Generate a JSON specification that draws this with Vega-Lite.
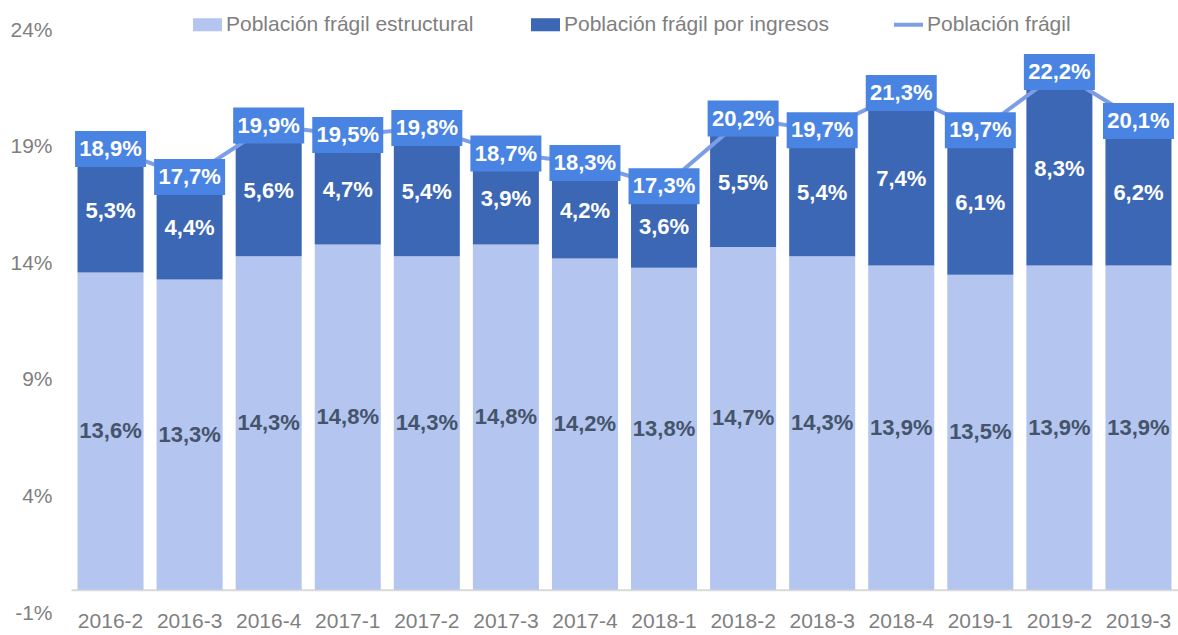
{
  "$schema": "https://vega.github.io/schema/vega-lite/v6.json",
  "autosize": {"type": "none"},
  "width": 1107,
  "height": 583,
  "padding": {"left": 71, "top": 30, "right": 0, "bottom": 22},
  "background": "white",
  "config": {
    "view": {"stroke": null},
    "locale": {"number": {"decimal": ",", "thousands": ".", "grouping": [3], "currency": ["", " €"], "minus": "-"}},
    "font": "Liberation Sans"
  },
  "data": {
    "values": [
      {"periodo": "2016-2", "estructural": 0.136, "ingresos": 0.053, "total": 0.189},
      {"periodo": "2016-3", "estructural": 0.133, "ingresos": 0.044, "total": 0.177},
      {"periodo": "2016-4", "estructural": 0.143, "ingresos": 0.056, "total": 0.199},
      {"periodo": "2017-1", "estructural": 0.148, "ingresos": 0.047, "total": 0.195},
      {"periodo": "2017-2", "estructural": 0.143, "ingresos": 0.054, "total": 0.198},
      {"periodo": "2017-3", "estructural": 0.148, "ingresos": 0.039, "total": 0.187},
      {"periodo": "2017-4", "estructural": 0.142, "ingresos": 0.042, "total": 0.183},
      {"periodo": "2018-1", "estructural": 0.138, "ingresos": 0.036, "total": 0.173},
      {"periodo": "2018-2", "estructural": 0.147, "ingresos": 0.055, "total": 0.202},
      {"periodo": "2018-3", "estructural": 0.143, "ingresos": 0.054, "total": 0.197},
      {"periodo": "2018-4", "estructural": 0.139, "ingresos": 0.074, "total": 0.213},
      {"periodo": "2019-1", "estructural": 0.135, "ingresos": 0.061, "total": 0.197},
      {"periodo": "2019-2", "estructural": 0.139, "ingresos": 0.083, "total": 0.222},
      {"periodo": "2019-3", "estructural": 0.139, "ingresos": 0.062, "total": 0.201}
    ]
  },
  "layer": [
    {
      "layer": [
        {
          "mark": {"type": "bar"},
          "encoding": {
            "x": {
              "field": "periodo", "type": "nominal", "sort": null,
              "scale": {"paddingInner": 0.165, "paddingOuter": 0.0825},
              "axis": {
                "title": null, "labelAngle": 0, "ticks": false, "offset": -23.3,
                "domainColor": "#d9d9d9", "domainWidth": 2,
                "labelFont": "Liberation Sans", "labelFontSize": 21, "labelColor": "#7f7f7f",
                "labelPadding": 21
              }
            },
            "y": {
              "field": "estructural", "type": "quantitative",
              "scale": {"domain": [-0.01, 0.24], "nice": false, "zero": false},
              "axis": {
                "title": null, "values": [-0.01, 0.04, 0.09, 0.14, 0.19, 0.24], "format": ".0%",
                "grid": false, "ticks": false, "domain": false,
                "labelFont": "Liberation Sans", "labelFontSize": 21, "labelColor": "#7f7f7f", "labelPadding": 19
              }
            },
            "color": {
              "datum": "Población frágil estructural", "type": "nominal",
              "scale": {
                "domain": ["Población frágil estructural", "Población frágil por ingresos", "Población frágil"],
                "range": ["#B4C5EF", "#3C67B5", "#7C9EE6"]
              },
              "legend": {
                "orient": "none", "legendX": 126, "legendY": -16, "direction": "horizontal",
                "title": null, "labelFont": "Liberation Sans", "labelFontSize": 21, "labelColor": "#7f7f7f",
                "symbolSize": 841, "labelOffset": 8, "columnPadding": 57, "labelLimit": 400, "symbolOpacity": 1,
                "encode": {
                  "symbols": {
                    "update": {
                      "shape": {"signal": "datum.value === 'Población frágil' ? 'stroke' : 'M-1,-0.45L1,-0.45L1,0.45L-1,0.45Z'"},
                      "stroke": {"scale": "color", "field": "value"},
                      "strokeWidth": {"signal": "datum.value === 'Población frágil' ? 4 : 0"}
                    }
                  }
                }
              }
            }
          }
        },
        {
          "mark": {"type": "bar"},
          "encoding": {
            "x": {"field": "periodo", "type": "nominal", "sort": null},
            "y": {"field": "estructural", "type": "quantitative"},
            "y2": {"field": "total"},
            "color": {"datum": "Población frágil por ingresos", "type": "nominal"}
          }
        },
        {
          "mark": {"type": "line", "strokeWidth": 4},
          "encoding": {
            "x": {"field": "periodo", "type": "nominal", "sort": null},
            "y": {"field": "total", "type": "quantitative"},
            "color": {"datum": "Población frágil", "type": "nominal"}
          }
        },
        {
          "mark": {"type": "point", "filled": true, "opacity": 1, "color": "#4A84E2", "size": 5041, "shape": "M-1,-0.507L1,-0.507L1,0.507L-1,0.507Z"},
          "encoding": {
            "x": {"field": "periodo", "type": "nominal", "sort": null},
            "y": {"field": "total", "type": "quantitative"}
          }
        },
        {
          "mark": {"type": "text", "color": "white", "fontWeight": "bold", "fontSize": 22, "font": "Liberation Sans", "baseline": "middle"},
          "encoding": {
            "x": {"field": "periodo", "type": "nominal", "sort": null},
            "y": {"field": "total", "type": "quantitative"},
            "text": {"field": "total", "type": "quantitative", "format": ".1%"}
          }
        }
      ]
    },
    {
      "layer": [
        {
          "mark": {"type": "text", "color": "#44546A", "fontWeight": "bold", "fontSize": 22, "font": "Liberation Sans", "baseline": "middle"},
          "encoding": {
            "x": {"field": "periodo", "type": "nominal", "sort": null},
            "y": {
              "field": "estructural", "type": "quantitative",
              "scale": {"domain": [-0.02, 0.48], "nice": false, "zero": false},
              "axis": null
            },
            "text": {"field": "estructural", "type": "quantitative", "format": ".1%"}
          }
        },
        {
          "transform": [{"fold": ["estructural", "total"], "as": ["clave", "valor"]}],
          "mark": {"type": "text", "color": "white", "fontWeight": "bold", "fontSize": 22, "font": "Liberation Sans", "baseline": "middle"},
          "encoding": {
            "x": {"field": "periodo", "type": "nominal", "sort": null},
            "y": {"aggregate": "sum", "field": "valor", "type": "quantitative"},
            "text": {"field": "ingresos", "type": "quantitative", "format": ".1%"}
          }
        }
      ]
    }
  ],
  "resolve": {"scale": {"y": "independent"}}
}
